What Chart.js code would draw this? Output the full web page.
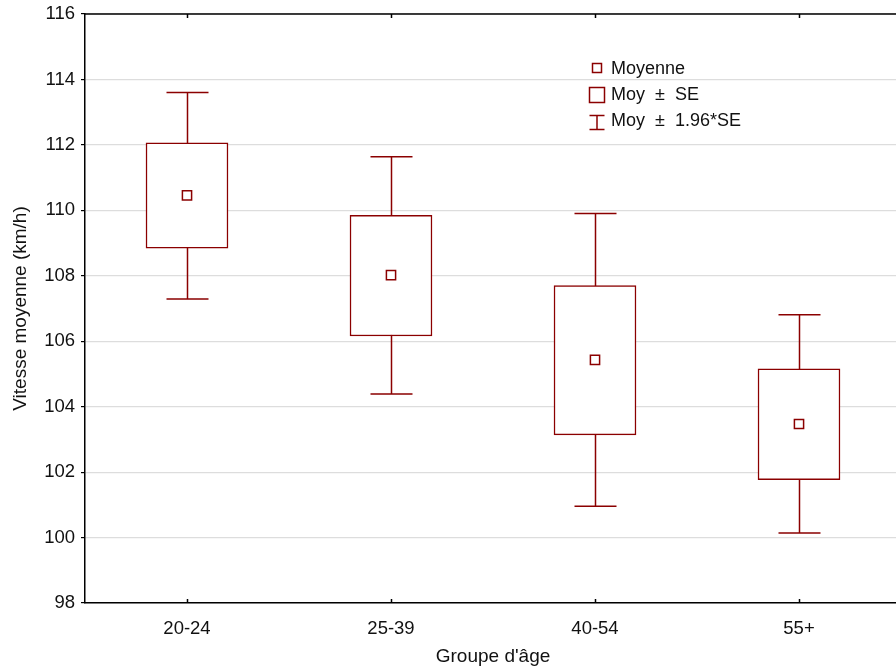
<!DOCTYPE html>
<html>
<head>
<meta charset="utf-8">
<script src="https://cdn.jsdelivr.net/npm/chart.js@4.4.1/dist/chart.umd.min.js"></script>
<style>
  html, body { margin: 0; padding: 0; background: #fff; overflow: hidden; }
  canvas { display: block; }
</style>
</head>
<body>
<canvas id="chart" width="909" height="672"></canvas>
<script>
// groups and stats
const groups = ['20-24', '25-39', '40-54', '55+'];
const means = [110.46, 108.02, 105.43, 103.47];
const seLow = [108.84, 106.16, 103.14, 101.77];
const seHigh = [112.06, 109.85, 107.70, 105.16];
const ciLow = [107.29, 104.39, 100.96, 100.14];
const ciHigh = [113.60, 111.64, 109.90, 106.81];
const yTicks = [98, 100, 102, 104, 106, 108, 110, 112, 114, 116];

const red = '#8b0000';
const fontFam = '"Liberation Sans", Arial, sans-serif';

// whiskers drawn through the scales, under the boxes
const whiskers = {
    id: 'whiskers',
    beforeDatasetsDraw(chart) {
        const ctx = chart.ctx;
        const x = chart.scales.x, y = chart.scales.y;
        ctx.save();
        ctx.strokeStyle = red;
        ctx.lineWidth = 1.5;
        groups.forEach((g, i) => {
            const cx = Math.round(x.getPixelForValue(i)) + 0.5;
            const top = y.getPixelForValue(ciHigh[i]);
            const bot = y.getPixelForValue(ciLow[i]);
            ctx.beginPath();
            ctx.moveTo(cx, top); ctx.lineTo(cx, bot);
            ctx.moveTo(cx - 21, top); ctx.lineTo(cx + 21, top);
            ctx.moveTo(cx - 21, bot); ctx.lineTo(cx + 21, bot);
            ctx.stroke();
        });
        ctx.restore();
    },
    afterDraw(chart) {
        const ctx = chart.ctx;
        const a = chart.chartArea;
        const x = chart.scales.x;
        ctx.save();
        ctx.strokeStyle = '#000';
        ctx.lineWidth = 1.5;
        ctx.beginPath();
        ctx.moveTo(a.left, a.top); ctx.lineTo(a.right, a.top);
        groups.forEach((g, i) => {
            const cx = Math.round(x.getPixelForValue(i)) + 0.5;
            ctx.moveTo(cx, a.top); ctx.lineTo(cx, a.top + 4);
            ctx.moveTo(cx, a.bottom); ctx.lineTo(cx, a.bottom - 4);
        });
        ctx.stroke();

        // legend
        const lx = 597;
        ctx.strokeStyle = red;
        ctx.lineWidth = 1.5;
        ctx.fillStyle = '#fff';
        ctx.fillRect(lx - 4.5, 63.5, 9, 9);
        ctx.strokeRect(lx - 4.5, 63.5, 9, 9);
        ctx.strokeRect(lx - 7.5, 87.5, 15, 15);
        ctx.beginPath();
        ctx.moveTo(lx - 7.5, 115.5); ctx.lineTo(lx + 7.5, 115.5);
        ctx.moveTo(lx, 115.5); ctx.lineTo(lx, 129.5);
        ctx.moveTo(lx - 7.5, 129.5); ctx.lineTo(lx + 7.5, 129.5);
        ctx.stroke();
        ctx.fillStyle = '#111';
        ctx.font = '18px ' + fontFam;
        ctx.textBaseline = 'middle';
        ctx.fillText('Moyenne', 611, 69);
        ctx.fillText('Moy  \u00b1  SE', 611, 95);
        ctx.fillText('Moy  \u00b1  1.96*SE', 611, 121);
        ctx.restore();
    }
};

new Chart(document.getElementById('chart'), {
    data: {
        labels: groups,
        datasets: [{
            type: 'bar',
            label: 'Moy \u00b1 SE',
            data: groups.map((g, i) => [seLow[i], seHigh[i]]),
            backgroundColor: '#fff',
            borderColor: red,
            borderWidth: 1.5,
            borderSkipped: false,
            barThickness: 82,
            order: 2
        }, {
            type: 'scatter',
            label: 'Moyenne',
            data: groups.map((g, i) => ({ x: i, y: means[i] })),
            pointStyle: 'rect',
            pointRadius: 6.5,
            pointBackgroundColor: '#fff',
            pointBorderColor: red,
            pointBorderWidth: 1.5,
            order: 1
        }]
    },
    options: {
        responsive: false,
        animation: false,
        layout: { padding: { top: 14, right: 0, left: 0, bottom: 0 } },
        plugins: { legend: { display: false }, tooltip: { enabled: false } },
        scales: {
            x: {
                type: 'category',
                offset: true,
                grid: { display: false },
                border: { color: '#000', width: 1.5 },
                ticks: { color: '#111', font: { size: 18.5, family: fontFam }, padding: 7 },
                title: { display: true, text: "Groupe d'\u00e2ge", color: '#111', font: { size: 19, family: fontFam }, padding: { top: 0, bottom: 4 } },
                afterFit: s => { s.height = 69; }
            },
            y: {
                min: 98,
                max: 116,
                afterBuildTicks: s => { s.ticks = yTicks.map(v => ({ value: v })); },
                grid: { color: '#dddddd', lineWidth: 1.2, tickLength: 4, tickColor: '#000' },
                border: { color: '#000', width: 1.5 },
                ticks: { color: '#111', font: { size: 18.5, family: fontFam }, padding: 6 },
                title: { display: true, text: 'Vitesse moyenne (km/h)', color: '#111', font: { size: 19, family: fontFam }, padding: { top: 9, bottom: 0 } },
                afterFit: s => { s.width = 85; s.paddingTop = 0; s.paddingBottom = 0; }
            }
        }
    },
    plugins: [whiskers]
});
</script>
</body>
</html>
